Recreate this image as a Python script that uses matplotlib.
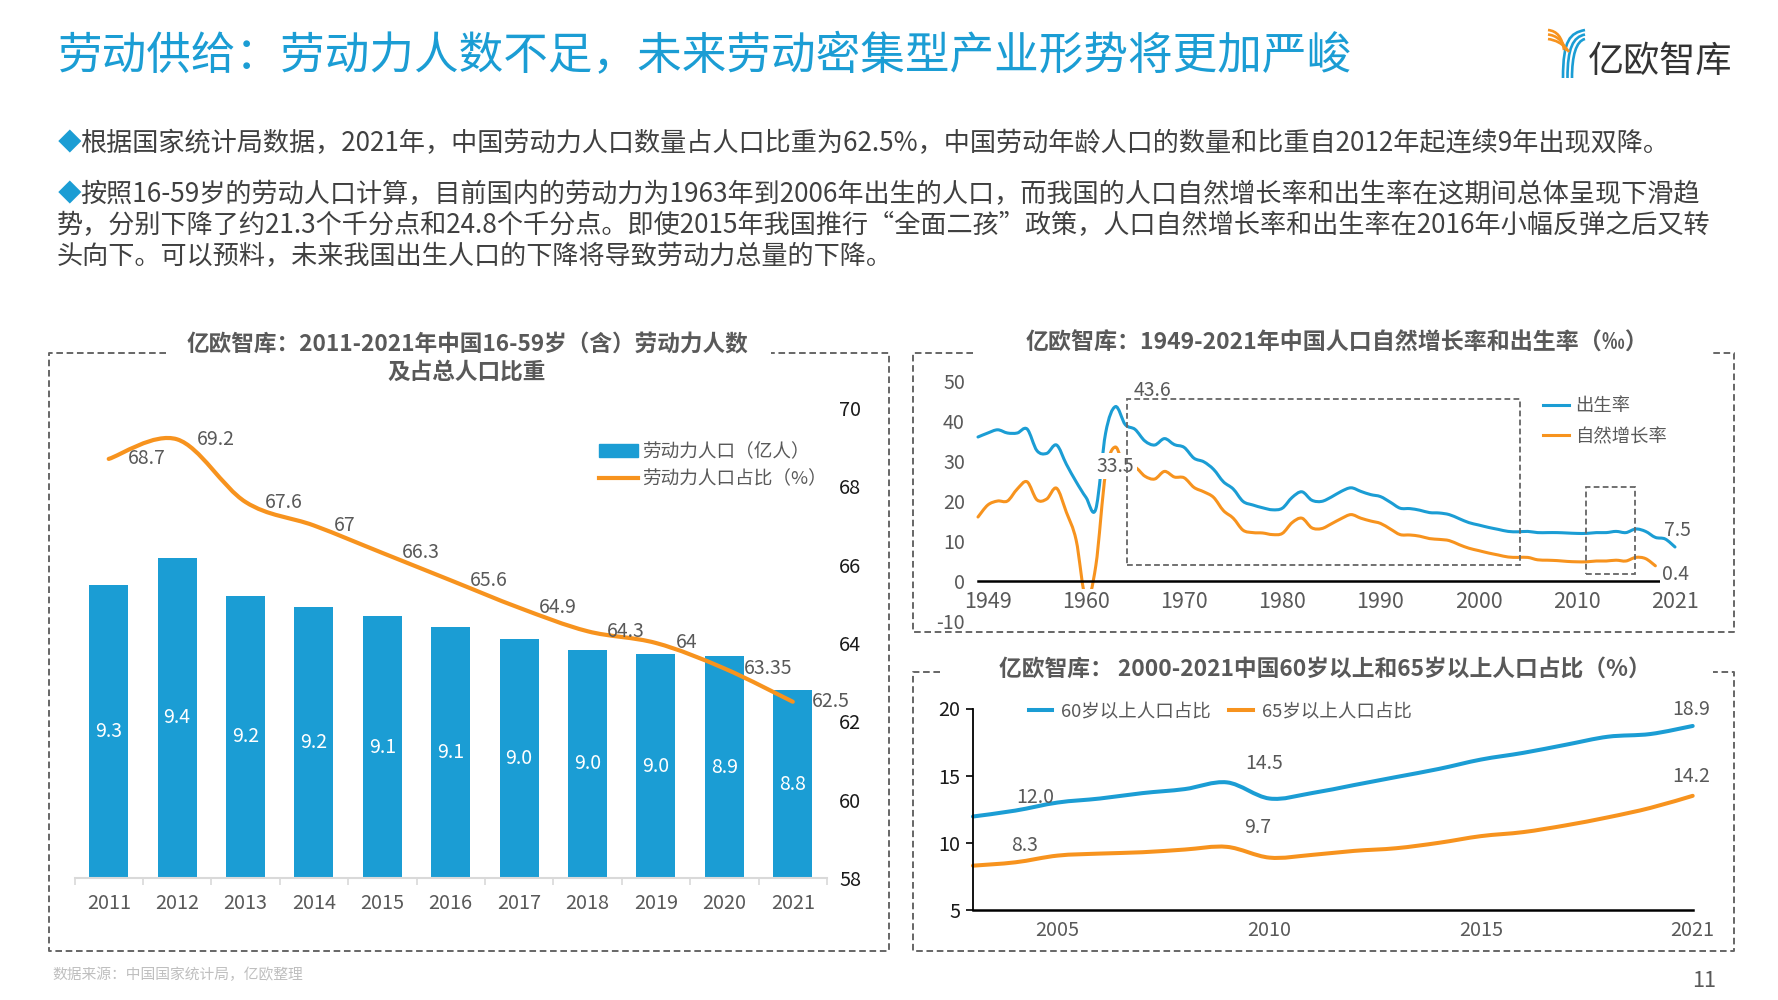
import numpy as np
import matplotlib
matplotlib.use("Agg")
import matplotlib.pyplot as plt
from matplotlib.lines import Line2D
from matplotlib.patches import Patch, PathPatch, Rectangle
from matplotlib.path import Path

plt.rcParams['font.family'] = ['Noto Sans CJK SC', 'DejaVu Sans']
plt.rcParams['axes.unicode_minus'] = False

W, H = 1778, 1000
BLUE = '#1B9DD4'
ORANGE = '#F7931E'
GRAY = '#595959'
DARK = '#1A1A1A'

main_title = "劳动供给：劳动力人数不足，未来劳动密集型产业形势将更加严峻"
para_lines = [
    "根据国家统计局数据，2021年，中国劳动力人口数量占人口比重为62.5%，中国劳动年龄人口的数量和比重自2012年起连续9年出现双降。",
    "按照16-59岁的劳动人口计算，目前国内的劳动力为1963年到2006年出生的人口，而我国的人口自然增长率和出生率在这期间总体呈现下滑趋",
    "势，分别下降了约21.3个千分点和24.8个千分点。即使2015年我国推行“全面二孩”政策，人口自然增长率和出生率在2016年小幅反弹之后又转",
    "头向下。可以预料，未来我国出生人口的下降将导致劳动力总量的下降。",
]

# left chart
labor_years = ['2011', '2012', '2013', '2014', '2015', '2016', '2017', '2018', '2019', '2020', '2021']
labor_pop = [9.31, 9.43, 9.26, 9.21, 9.17, 9.12, 9.07, 9.02, 9.00, 8.99, 8.84]
labor_pop_labels = ['9.3', '9.4', '9.2', '9.2', '9.1', '9.1', '9.0', '9.0', '9.0', '8.9', '8.8']
labor_share = [68.7, 69.2, 67.6, 67, 66.3, 65.6, 64.9, 64.3, 64, 63.35, 62.5]
labor_share_labels = ['68.7', '69.2', '67.6', '67', '66.3', '65.6', '64.9', '64.3', '64', '63.35', '62.5']

# top right chart, 1949 onwards
birth_rate = [36, 37, 37.8, 37, 37, 38, 32.6, 31.9, 34, 29.2, 24.8, 20.9, 18, 37, 43.6, 39.1, 37.9, 35, 34, 35.6,
              34.1, 33.4, 30.7, 29.8, 27.9, 24.8, 23, 19.9, 19, 18.3, 17.8, 18.2, 20.9, 22.3, 20.2, 19.9, 21, 22.4,
              23.3, 22.4, 21.6, 21.1, 19.7, 18.2, 18.1, 17.7, 17.1, 17, 16.6, 15.6, 14.6, 14, 13.4, 12.9, 12.4, 12.3,
              12.4, 12.1, 12.1, 12.1, 12, 11.9, 11.9, 12.1, 12.1, 12.4, 12.1, 13, 12.4, 10.9, 10.5, 8.5]
natural_rate = [16, 19, 20, 20, 23, 24.8, 20.3, 20.5, 23.2, 17.2, 10.2, -4.6, 3.8, 27, 33.5, 27.6, 28.4, 26.2, 25.5,
                27.4, 26, 25.8, 23.4, 22.3, 20.9, 17.6, 15.7, 12.7, 12.1, 12, 11.6, 11.9, 14.6, 15.7, 13.3, 13.1,
                14.3, 15.6, 16.6, 15.7, 15, 14.4, 13, 11.6, 11.5, 11.2, 10.6, 10.4, 10.1, 9.1, 8.2, 7.6, 7, 6.5, 6,
                5.9, 5.9, 5.3, 5.2, 5.1, 4.9, 4.8, 4.8, 5, 5, 5.2, 5, 5.9, 5.6, 3.8]
rate_ticks = [1, 11, 21, 31, 41, 51, 61, 71]
rate_tick_labels = ['1949', '1960', '1970', '1980', '1990', '2000', '2010', '2021']

# bottom right chart
old_ticks = [2, 7, 12, 17]
old_tick_labels = ['2005', '2010', '2015', '2021']
over60 = [11.96, 12.4, 13.0, 13.3, 13.7, 14.0, 14.5, 13.3, 13.7, 14.3, 14.9, 15.5, 16.2, 16.7, 17.3, 17.9, 18.1, 18.7]
over65 = [8.3, 8.55, 9.05, 9.2, 9.3, 9.5, 9.7, 8.9, 9.1, 9.4, 9.6, 10.0, 10.5, 10.8, 11.3, 11.9, 12.6, 13.5]


def px_axes(left, top, right, bottom):
    return fig.add_axes([left / W, 1 - bottom / H, (right - left) / W, (bottom - top) / H])


def smooth_line(ax, y, color, lw):
    # catmull-rom through the points, drawn as bezier segments
    pts = np.column_stack([np.arange(len(y)), y]).astype(float)
    verts = [pts[0]]
    codes = [Path.MOVETO]
    for i in range(len(pts) - 1):
        p0 = pts[max(i - 1, 0)]
        p3 = pts[min(i + 2, len(pts) - 1)]
        verts += [pts[i] + (pts[i + 1] - p0) / 6, pts[i + 1] - (p3 - pts[i]) / 6, pts[i + 1]]
        codes += [Path.CURVE4] * 3
    ax.add_patch(PathPatch(Path(verts, codes), fc='none', ec=color, lw=lw, capstyle='round',
                           joinstyle='round', zorder=2, clip_on=False))


def dashed(xs, ys):
    page.plot(xs, ys, color='#666666', lw=1.4, ls=(0, (3.4, 1.9)))


def stroke(points, color):
    codes = [Path.MOVETO] + [Path.CURVE4] * (len(points) - 1)
    page.add_patch(PathPatch(Path(points, codes), fc='none', ec=color, lw=1.9, capstyle='butt'))


fig = plt.figure(figsize=(W / 100, H / 100), dpi=100, facecolor='white')

# page layer in pixel coordinates
page = fig.add_axes([0, 0, 1, 1])
page.set_xlim(0, W)
page.set_ylim(H, 0)
page.axis('off')

page.text(58, 56, main_title, fontsize=32.1, color=BLUE, va='center', ha='left')
page.text(58, 144, "◆", fontsize=17, color=BLUE, va='center', ha='left')
page.text(58, 195, "◆", fontsize=17, color=BLUE, va='center', ha='left')
page.text(80, 144, para_lines[0], fontsize=18.8, color='#404040', va='center', ha='left')
page.text(80, 195, para_lines[1], fontsize=18.8, color='#404040', va='center', ha='left')
page.text(57, 225.5, para_lines[2], fontsize=18.8, color='#404040', va='center', ha='left')
page.text(57, 256.5, para_lines[3], fontsize=18.8, color='#404040', va='center', ha='left')

# logo
for i in range(3):
    stroke([(1548, 30 + 4.5 * i), (1557 - i, 31 + 4.5 * i), (1562 + i * 0.5, 37 + 3 * i), (1564 + i * 2.5, 50 + i)], ORANGE)
    stroke([(1563 + 4.5 * i, 78), (1563 + 4.5 * i, 40 + i * 8), (1570 + 3 * i, 33 + 4 * i), (1585, 30 + 4.5 * i)], BLUE)
page.text(1660, 62, "亿欧智库", fontsize=26, color='#333333', va='center', ha='center')

# dashed frames, the gaps hold the titles
dashed([166, 49, 49, 889, 889, 771], [353, 353, 951, 951, 353, 353])
dashed([973, 913, 913, 1734, 1734, 1710], [353, 353, 632, 632, 353, 353])
dashed([940, 913, 913, 1734, 1734, 1713], [672, 672, 951, 951, 672, 672])

page.text(467, 345, "亿欧智库：2011-2021年中国16-59岁（含）劳动力人数", fontsize=16.3, fontweight='bold', color=GRAY, va='center', ha='center')
page.text(467, 372, "及占总人口比重", fontsize=16.3, fontweight='bold', color=GRAY, va='center', ha='center')
page.text(1337, 343, "亿欧智库：1949-2021年中国人口自然增长率和出生率（‰）", fontsize=16.55, fontweight='bold', color=GRAY, va='center', ha='center')
page.text(1325, 669, "亿欧智库： 2000-2021中国60岁以上和65岁以上人口占比（%）", fontsize=16.4, fontweight='bold', color=GRAY, va='center', ha='center')

page.text(52, 975, "数据来源：中国国家统计局，亿欧整理", fontsize=10.65, color='#BFBFBF', style='italic', va='center', ha='left')
page.text(1704, 981, "11", fontsize=15.6, color=GRAY, va='center', ha='center')

# left chart: bars on a hidden axis, share on the right one
ax1 = px_axes(74.5, 408, 827, 878)
x = np.arange(len(labor_years))
bars = ax1.bar(x, labor_pop, width=0.57, color=BLUE, zorder=2)
ax1.bar_label(bars, labels=labor_pop_labels, label_type='center', color='white', fontsize=14)
ax1.set_xlim(-0.5, 10.5)
ax1.set_ylim(8, 10.1)
ax1.patch.set_visible(False)
for s in ['top', 'left', 'right']:
    ax1.spines[s].set_visible(False)
ax1.spines['bottom'].set_color('#D9D9D9')
ax1.spines['bottom'].set_linewidth(1.5)
ax1.set_yticks([])
ax1.set_xticks(np.arange(-0.5, 11), labels=[])
ax1.tick_params(axis='x', which='major', length=5, width=1.2, color='#D9D9D9')
ax1.set_xticks(x, labels=labor_years, minor=True)
ax1.tick_params(axis='x', which='minor', length=0, pad=11, labelsize=14.3, labelcolor=GRAY)

ax1r = ax1.twinx()
ax1r.set_ylim(58, 70)
ax1r.set_yticks([58, 60, 62, 64, 66, 68, 70])
ax1r.tick_params(axis='y', length=0, pad=8.6, labelsize=14.3, labelcolor=DARK)
for s in ax1r.spines.values():
    s.set_visible(False)
smooth_line(ax1r, labor_share, ORANGE, 3)
for i, lab in enumerate(labor_share_labels):
    ax1r.annotate(lab, (i, labor_share[i]), xytext=(19.5, 0), textcoords='offset pixels',
                  ha='left', va='center', fontsize=14, color=GRAY, zorder=5)
ax1r.legend(handles=[Patch(color=BLUE, label='劳动力人口（亿人）'),
                     Line2D([], [], color=ORANGE, lw=3, label='劳动力人口占比（%）')],
            loc='upper left', bbox_to_anchor=(524.5 / 752.5, 0.925), frameon=False, fontsize=13.4,
            labelcolor=GRAY, handlelength=2.08, handletextpad=0.23, labelspacing=0.48,
            borderpad=0, borderaxespad=0)

# top right chart
ax2 = px_axes(978, 381, 1675, 621)
ax2.set_xlim(0, 71)
ax2.set_ylim(-10, 50)
ax2.set_axisbelow(False)
ax2.patch.set_visible(False)
for s in ['top', 'left', 'right']:
    ax2.spines[s].set_visible(False)
ax2.spines['bottom'].set_position(('data', 0))
ax2.spines['bottom'].set_color('black')
ax2.spines['bottom'].set_linewidth(1.8)
ax2.set_xticks(rate_ticks, labels=rate_tick_labels)
ax2.set_yticks([-10, 0, 10, 20, 30, 40, 50])
ax2.tick_params(axis='x', length=0, pad=7, labelsize=15.5, labelcolor=GRAY)
ax2.tick_params(axis='y', length=0, pad=9.4, labelsize=14.2, labelcolor=GRAY)
for lab in ax2.get_xticklabels():
    lab.set_bbox(dict(fc='white', ec='none', pad=1))
smooth_line(ax2, birth_rate, BLUE, 2.2)
smooth_line(ax2, natural_rate, ORANGE, 2.2)
ax2.annotate('43.6', (14, birth_rate[14]), xytext=(37, 16), textcoords='offset pixels', ha='center', va='center',
             fontsize=14, color=GRAY, zorder=5)
ax2.annotate('33.5', (14, natural_rate[14]), xytext=(0, -19), textcoords='offset pixels', ha='center', va='center',
             fontsize=14, color=GRAY, zorder=3, bbox=dict(fc='white', ec='none', pad=2))
ax2.annotate('7.5', (71, birth_rate[71]), xytext=(2, 16), textcoords='offset pixels', ha='center', va='center',
             fontsize=14, color=GRAY, zorder=5)
ax2.annotate('0.4', (69, natural_rate[69]), xytext=(20.5, -9), textcoords='offset pixels', ha='center', va='center',
             fontsize=14, color=GRAY, zorder=5, bbox=dict(fc='white', ec='none', pad=2))
ax2.add_patch(Rectangle((15.2, 4.0), 40, 41.5, fc='none', ec='#666666', lw=1.3, ls=(0, (3.2, 1.8)), zorder=4))
ax2.add_patch(Rectangle((61.9, 1.8), 5, 21.8, fc='none', ec='#666666', lw=1.3, ls=(0, (3.2, 1.8)), zorder=4))
ax2.legend(handles=[Line2D([], [], color=BLUE, lw=2.2, label='出生率'),
                    Line2D([], [], color=ORANGE, lw=2.2, label='自然增长率')],
           loc='upper left', bbox_to_anchor=(565 / 697, 0.933), frameon=False, fontsize=13.2,
           labelcolor=GRAY, handlelength=1.4, handletextpad=0.36, labelspacing=0.7,
           borderpad=0, borderaxespad=0)

# bottom right chart
ax3 = px_axes(973, 708.5, 1692.7, 910)
ax3.set_xlim(0, 17)
ax3.set_ylim(5, 20)
ax3.patch.set_visible(False)
for s in ['top', 'right']:
    ax3.spines[s].set_visible(False)
ax3.spines['left'].set_linewidth(1.3)
ax3.spines['bottom'].set_linewidth(1.8)
ax3.set_xticks(old_ticks, labels=old_tick_labels)
ax3.set_yticks([5, 10, 15, 20])
ax3.tick_params(axis='x', length=0, pad=7, labelsize=14.3, labelcolor=GRAY)
ax3.tick_params(axis='y', length=5, width=1.2, pad=4, labelsize=14.3, labelcolor=DARK)
smooth_line(ax3, over60, BLUE, 2.9)
smooth_line(ax3, over65, ORANGE, 2.9)
for series, i, lab, dx, dy in [(over60, 1, '12.0', 20, 13), (over60, 6, '14.5', 36.7, 19), (over60, 17, '18.9', -2, 16),
                               (over65, 1, '8.3', 9, 16.5), (over65, 6, '9.7', 31, 19), (over65, 17, '14.2', -2, 19)]:
    ax3.annotate(lab, (i, series[i]), xytext=(dx, dy), textcoords='offset pixels', ha='center', va='center',
                 fontsize=14, color=GRAY, zorder=5)
ax3.legend(handles=[Line2D([], [], color=BLUE, lw=2.9, label='60岁以上人口占比'),
                    Line2D([], [], color=ORANGE, lw=2.9, label='65岁以上人口占比')],
           loc='center left', bbox_to_anchor=(55.7 / 719.7, 0.983), ncol=2, frameon=False, fontsize=13.3,
           labelcolor=GRAY, handlelength=1.27, handletextpad=0.49, columnspacing=1.0,
           borderpad=0, borderaxespad=0)

fig.savefig('out.png', dpi=100)
